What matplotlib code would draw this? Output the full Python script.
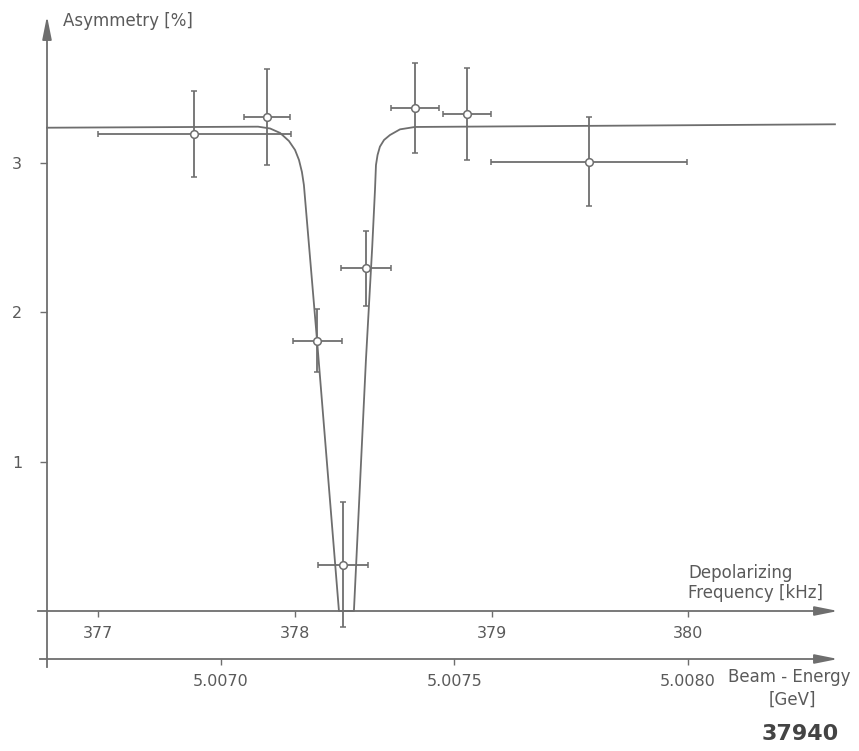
import numpy as np
import matplotlib.pyplot as plt

# measured points: depolarizing frequency [kHz], asymmetry [%]
freq = [377.49, 377.86, 378.115, 378.245, 378.36, 378.61, 378.875, 379.495]
asym = [3.195, 3.31, 1.81, 0.31, 2.295, 3.37, 3.33, 3.01]
freq_err = [0.49, 0.118, 0.125, 0.125, 0.127, 0.122, 0.123, 0.50]
asym_err = [0.29, 0.32, 0.21, 0.42, 0.25, 0.30, 0.31, 0.30]

# fitted resonance curve
fit_f = [376.742, 377.814, 377.875, 377.926, 377.971, 378.002, 378.022, 378.037,
         378.047, 378.114, 378.225, 378.301, 378.362, 378.394, 378.408, 378.413,
         378.421, 378.433, 378.454, 378.484, 378.535, 378.611, 380.744]
fit_a = [3.237, 3.244, 3.232, 3.202, 3.148, 3.088, 3.021, 2.940,
         2.853, 1.808, 0.0, 0.0, 1.681, 2.440, 2.820, 2.987,
         3.054, 3.110, 3.155, 3.188, 3.226, 3.242, 3.260]

freq_ticks = [377, 378, 379, 380]
asym_ticks = [1, 2, 3]
energy_ticks = [5.0070, 5.0075, 5.0080]
energy_labels = ['5.0070', '5.0075', '5.0080']

# beam energy scale relative to the frequency scale
E0, F0, DEDF = 5.0070, 377.6244, 0.001 / 2.3717


def f2e(f):
    return E0 + (np.asarray(f) - F0) * DEDF


def e2f(e):
    return F0 + (np.asarray(e) - E0) / DEDF


W, H = 859, 751
GRAY = '#6e6e6e'
TXT = '#5a5a5a'

fig = plt.figure(figsize=(W / 100, H / 100), dpi=100)
ax = fig.add_axes([0, 0, 1, 1])
ax.set_facecolor('white')

# pixel -> data mapping of the drawing
PX_PER_KHZ, X_MID = 196.9, 393.1
PX_PER_PCT, Y_ZERO = 149.3, 611
px2f = lambda px: 378.5 + (px - X_MID) / PX_PER_KHZ
py2a = lambda py: (Y_ZERO - py) / PX_PER_PCT
ax.set_xlim(px2f(0), px2f(W))
ax.set_ylim(py2a(H), py2a(0))

lw = 1.3
for s in ['top', 'right']:
    ax.spines[s].set_visible(False)
ax.spines['left'].set_position(('data', px2f(47)))
ax.spines['left'].set_bounds(py2a(667), py2a(30))
ax.spines['bottom'].set_position(('data', 0))
ax.spines['bottom'].set_bounds(px2f(38), px2f(825))
for s in ['left', 'bottom']:
    ax.spines[s].set_color(GRAY)
    ax.spines[s].set_linewidth(lw)

ax.set_xticks(freq_ticks)
ax.set_xticklabels([str(t) for t in freq_ticks])
ax.set_yticks(asym_ticks)
ax.set_yticklabels([str(t) for t in asym_ticks])
ax.tick_params(axis='x', direction='out', length=4.5, width=1, color=GRAY,
               labelsize=11.5, labelcolor=TXT, pad=6)
ax.tick_params(axis='y', direction='out', length=5, width=1, color=GRAY,
               labelsize=11.5, labelcolor=TXT, pad=13)

# arrow heads
arr = dict(arrowstyle='-|>,head_length=1.0,head_width=0.2', color=GRAY,
           lw=lw, shrinkA=0, shrinkB=0, mutation_scale=14)
ax.annotate('', xy=(px2f(47), py2a(16)), xytext=(px2f(47), py2a(34)), arrowprops=arr)
ax.annotate('', xy=(px2f(838), 0), xytext=(px2f(820), 0), arrowprops=arr)
ax.annotate('', xy=(px2f(838), py2a(659)), xytext=(px2f(820), py2a(659)),
            arrowprops=arr)

# beam energy axis
sec = ax.secondary_xaxis((H - 659) / H, functions=(f2e, e2f))
sec.spines['bottom'].set_color(GRAY)
sec.spines['bottom'].set_linewidth(lw)
sec.spines['bottom'].set_bounds(f2e(px2f(40)), f2e(px2f(825)))
sec.set_xticks(energy_ticks)
sec.set_xticklabels(energy_labels)
sec.tick_params(axis='x', direction='out', length=4.5, width=1, color=GRAY,
                labelsize=11.5, labelcolor=TXT, pad=6)

# fit curve
ax.plot(fit_f, fit_a, color=GRAY, lw=lw, zorder=2)

# data points
ax.errorbar(freq, asym, xerr=freq_err, yerr=asym_err, fmt='o', ms=5.5,
            mfc='white', mec=GRAY, mew=1.1, ecolor=GRAY, elinewidth=1.3,
            capsize=2.5, capthick=1.3, zorder=3)

fs = 12
fig.text(63 / W, 1 - 21 / H, 'Asymmetry [%]', fontsize=fs, color=TXT,
         ha='left', va='center')
fig.text(688 / W, 1 - 573 / H, 'Depolarizing', fontsize=fs, color=TXT,
         ha='left', va='center')
fig.text(688 / W, 1 - 593 / H, 'Frequency [kHz]', fontsize=fs, color=TXT,
         ha='left', va='center')
fig.text(789 / W, 1 - 677 / H, 'Beam - Energy', fontsize=fs, color=TXT,
         ha='center', va='center')
fig.text(792 / W, 1 - 700 / H, '[GeV]', fontsize=fs, color=TXT,
         ha='center', va='center')
fig.text(800 / W, 1 - 734 / H, '37940', fontsize=16, color='#444444',
         fontweight='semibold', ha='center', va='center')

fig.savefig('out.png', dpi=100)
